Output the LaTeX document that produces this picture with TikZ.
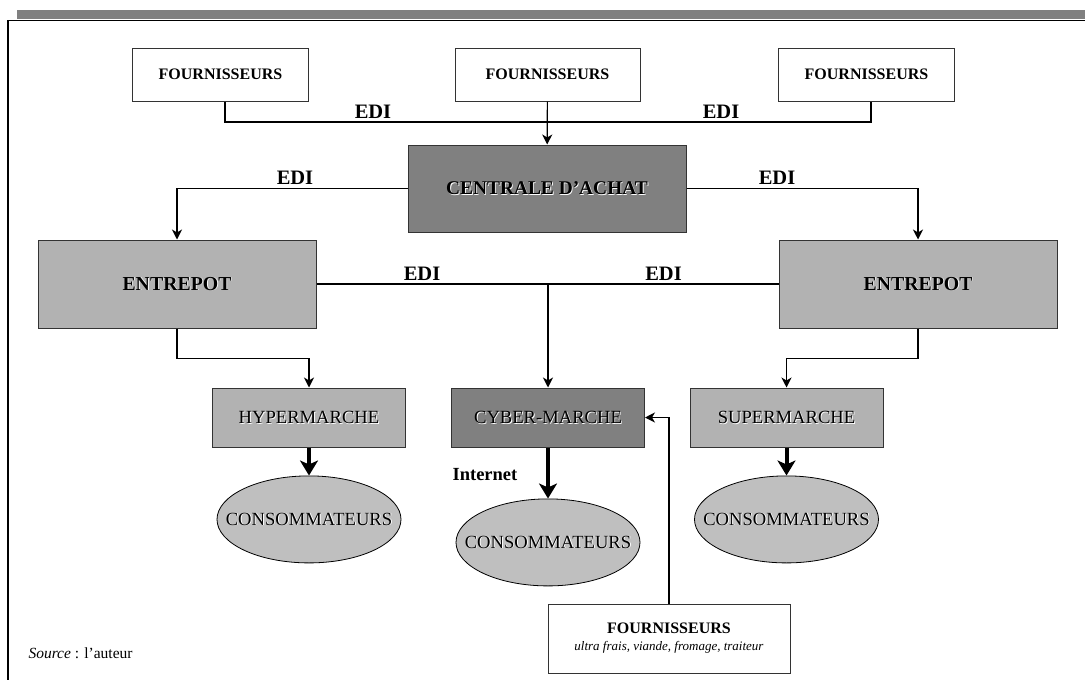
\documentclass[tikz,border=0pt]{standalone}
\usepackage{fontspec}
\setmainfont{Liberation Serif}
\usepackage{xcolor}
\usetikzlibrary{shapes.geometric, arrows.meta, positioning}
\newcommand{\ombre}[1]{\makebox[0pt][l]{\hspace{0.9pt}\raisebox{-0.9pt}{\textcolor{white}{#1}}}#1}

\begin{document}
\begin{tikzpicture}[x=1pt, y=-1pt, node distance=28pt, align=center]
      % Styles
      \tikzset{
        block/.style={rectangle, draw=black!80, line width=1pt, inner sep=0pt, text centered},
        supplier/.style={block, fill=white, minimum width=176pt, minimum height=53pt, font=\fontsize{16}{18}\selectfont\bfseries},
        central/.style={block, fill=black!50, minimum width=278pt, minimum height=87pt, font=\fontsize{19.4}{21}\selectfont\bfseries},
        depot/.style={block, fill=black!30, minimum width=278pt, minimum height=88pt, font=\fontsize{19.8}{21}\selectfont\bfseries},
        store/.style={block, fill=black!30, minimum width=193pt, minimum height=59pt, font=\fontsize{18.6}{20}\selectfont},
        consumer/.style={ellipse, draw=black, line width=0.8pt, fill=black!25, inner ysep=0pt, inner xsep=-60pt, minimum width=184pt, minimum height=87pt, font=\fontsize{18.6}{20}\selectfont},
        edi/.style={font=\fontsize{20.5}{22}\selectfont\bfseries, inner sep=0pt},
        link/.style={line width=1.2pt},
        arrow/.style={link, -{Stealth[length=10pt, width=10pt, inset=3pt]}},
        bigarrow/.style={line width=4pt, -{Stealth[length=15pt, width=18pt, inset=4pt]}}
      }
      \useasboundingbox (0,0) rectangle (1085,680);

      % Frame
      \fill[black!50] (17,10) rectangle (1085,19);
      \draw[line width=1.2pt] (8,680) -- (8,20.5) -- (1085,20.5);

      % Nodes
      \node (f1) [supplier] at (220.5,74.5) {FOURNISSEURS};
      \node (f2) [supplier, minimum width=185pt] at (547.5,74.5) {FOURNISSEURS};
      \node (f3) [supplier] at (866.5,74.5) {FOURNISSEURS};

      \node (centrale) [central] at (547,188.5) {\ombre{CENTRALE D'ACHAT}};

      \node (ent1) [depot] at (177,284) {\ombre{ENTREPOT}};
      \node (ent2) [depot] at (918,284) {\ombre{ENTREPOT}};

      \node (hyper) [store] at (309,417.5) {\ombre{HYPERMARCHE}};
      \node (cyber) [store, fill=black!50] at (548,417.5) {\ombre{CYBER-MARCHE}};
      \node (super) [store] at (786.5,417.5) {\ombre{SUPERMARCHE}};

      \node (c1) [consumer, below=of hyper] {\ombre{CONSOMMATEURS}};
      \node (c2) [consumer, below=51pt of cyber] {\ombre{CONSOMMATEURS}};
      \node (c3) [consumer, below=of super] {\ombre{CONSOMMATEURS}};

      \node (f4) [supplier, minimum width=242pt, minimum height=69pt] at (669,638.5) {FOURNISSEURS\\[-1pt] {\fontsize{13}{15}\selectfont\mdseries\itshape ultra frais, viande, fromage, traiteur}};

      % Labels
      \node (edi1) [edi] at (373,112) {EDI};
      \node (edi2) [edi] at (721,112) {EDI};
      \node (edi3) [edi] at (295,177.5) {EDI};
      \node (edi4) [edi] at (777,177.5) {EDI};
      \node (edi5) [edi] at (422,273.5) {EDI};
      \node (edi6) [edi] at (663.5,273.5) {EDI};
      \node (internet) [edi, font=\fontsize{18.5}{20}\selectfont\bfseries] at (485,475) {Internet};
      \node (source) [anchor=west, font=\fontsize{15.5}{17}\selectfont] at (25,653) {\textit{Source} : l'auteur};

      % Arrows
      \coordinate (edirow) at (0,122);
      \draw [link] ([xshift=4.5pt]f1.south) |- (f2.south |- edirow) -| ([xshift=4.5pt]f3.south);
      \draw [arrow] (f2) -- (centrale);
      \draw [arrow] (centrale) -| (ent1);
      \draw [arrow] (centrale) -| (ent2);
      \draw [link] (ent1) -- (ent2);
      \draw [arrow] (ent1.east -| cyber.north) -- (cyber);
      \draw [arrow] (ent1.south) -- ++(0,30) -| (hyper);
      \draw [arrow] (ent2.south) -- ++(0,30) -| (super);
      \draw [bigarrow] (hyper) -- (c1);
      \draw [bigarrow] (cyber) -- (c2);
      \draw [bigarrow] (super) -- (c3);
      \draw [arrow] (f4) |- (cyber);
\end{tikzpicture}
\end{document}
